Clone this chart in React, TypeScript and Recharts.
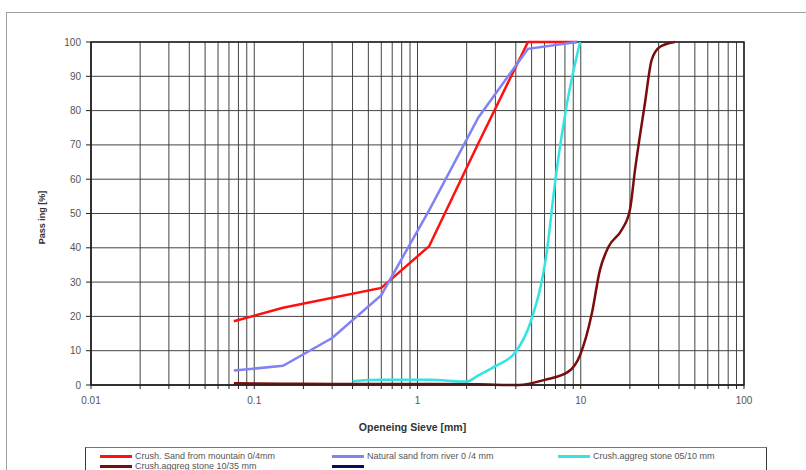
import { CartesianGrid, Label, Line, LineChart, ReferenceArea, XAxis, YAxis } from 'recharts'

// Log axis: labelled decades and the 2..9 minor lines between them.
const decades = [0.01, 0.1, 1, 10, 100]
const sieveTicks = decades
  .slice(0, -1)
  .flatMap((d) => [1, 2, 3, 4, 5, 6, 7, 8, 9].map((m) => +(d * m).toPrecision(3)))
  .concat(100)
const passingTicks = [0, 10, 20, 30, 40, 50, 60, 70, 80, 90, 100]

// Sieve opening [mm] / passing [%].
const mountainSandX = [0.075, 0.15, 0.6, 1.18, 2.36, 4.75, 9.5]
const mountainSandY = [18.6, 22.5, 28.3, 40.5, 70.5, 100, 100]

const riverSandX = [0.075, 0.15, 0.3, 0.6, 1.18, 2.36, 4.75, 9.5]
const riverSandY = [4.2, 5.6, 13.7, 26.2, 51, 78, 98, 100]

const stone0510X = [0.4, 0.6, 1.18, 2, 2.36, 3, 4, 4.9, 6.2, 7, 8.2, 9.9]
const stone0510Y = [1.1, 1.5, 1.5, 1, 2.8, 5.5, 9.7, 18, 39, 60, 81.6, 100]

const stone1035X = [0.075, 0.15, 0.3, 0.6, 1.18, 2.36, 4.2, 6, 8.4, 9.9, 11.7, 13.1, 14.8, 17.8, 20, 21.5, 24.7, 27.2, 30.6, 37.7]
const stone1035Y = [0.5, 0.4, 0.3, 0.3, 0.3, 0.2, 0, 1.5, 3.9, 8.7, 20.9, 33.5, 40.3, 45.2, 51, 62.7, 82, 94.8, 98.6, 100]

const zip = (xs: number[], ys: number[]) => xs.map((x, i) => ({ x, y: ys[i] }))

const series = [
  { name: 'Crush. Sand from mountain 0/4mm', color: '#ff1010', data: zip(mountainSandX, mountainSandY), type: 'linear' },
  { name: 'Natural sand from river 0 /4 mm', color: '#8282f5', data: zip(riverSandX, riverSandY), type: 'linear' },
  { name: 'Crush.aggreg stone 05/10 mm', color: '#33e4e4', data: zip(stone0510X, stone0510Y), type: 'monotone' },
  { name: 'Crush.aggreg stone 10/35 mm', color: '#7a0c0c', data: zip(stone1035X, stone1035Y), type: 'monotone' },
] as const

// Legend rows as in the sheet; the last entry has no series behind it.
const legendItems = [
  { name: series[0].name, color: series[0].color },
  { name: series[1].name, color: series[1].color },
  { name: series[2].name, color: series[2].color },
  { name: series[3].name, color: series[3].color },
  { name: '', color: '#0a0a5c' },
]

const tickStyle = { fontSize: 10, fill: '#555', fontFamily: '"Liberation Sans", Arial, sans-serif' }

function YTitle({ viewBox }: any) {
  const cx = viewBox.x + 42
  const cy = viewBox.y + viewBox.height / 2 + 4
  return (
    <text
      x={cx}
      y={cy}
      transform={`rotate(-90 ${cx} ${cy})`}
      textAnchor="middle"
      dominantBaseline="central"
      style={{ fontSize: 9, fontWeight: 700, fill: '#333' }}
    >
      Pass ing [%]
    </text>
  )
}

function XTitle({ viewBox }: any) {
  return (
    <text
      x={viewBox.x + viewBox.width / 2 - 5}
      y={viewBox.y + 42}
      textAnchor="middle"
      dominantBaseline="central"
      style={{ fontSize: 10.5, fontWeight: 700, fill: '#333' }}
    >
      Openeing Sieve [mm]
    </text>
  )
}

function SheetLegend() {
  const cols = [100, 332, 558]
  return (
    <div
      style={{
        position: 'absolute',
        left: 85,
        top: 447,
        width: 682,
        height: 40,
        border: '1.5px solid #3a3a3a',
        borderTopColor: '#777',
        boxSizing: 'border-box',
      }}
    >
      {legendItems.map((it, i) => (
        <div
          key={i}
          style={{
            position: 'absolute',
            left: cols[i % 3] - 86,
            top: 3 + Math.floor(i / 3) * 10,
            display: 'flex',
            alignItems: 'center',
            height: 10,
            fontSize: 9,
            color: '#555',
            whiteSpace: 'nowrap',
          }}
        >
          <span style={{ display: 'inline-block', width: 32, height: 3, background: it.color, marginRight: 3 }} />
          {it.name}
        </div>
      ))}
    </div>
  )
}

export default function App() {
  return (
    <div
      style={{
        position: 'absolute',
        left: 0,
        top: 0,
        width: 806,
        height: 470,
        overflow: 'hidden',
        background: '#fff',
        fontFamily: '"Liberation Sans", Arial, sans-serif',
      }}
    >
      <div
        style={{
          position: 'absolute',
          left: 6,
          top: 12,
          width: 900,
          height: 600,
          borderTop: '1.5px solid #a0a0a0',
          borderLeft: '1.5px solid #a0a0a0',
        }}
      />
      <div style={{ position: 'absolute', left: 0, top: 0 }}>
        <LineChart width={806} height={470} margin={{ top: 42, right: 62, bottom: 0, left: 0 }}>
          <CartesianGrid stroke="#444" strokeWidth={1} />
          <XAxis
            dataKey="x"
            type="number"
            scale="log"
            domain={[0.01, 100]}
            allowDataOverflow
            ticks={sieveTicks}
            interval={0}
            tickFormatter={(v: number) => (decades.includes(v) ? String(v) : '')}
            height={85}
            tickSize={4}
            tickMargin={8}
            tick={tickStyle}
            stroke="#222"
          >
            <Label content={XTitle} />
          </XAxis>
          <YAxis
            type="number"
            domain={[0, 100]}
            ticks={passingTicks}
            interval={0}
            width={91}
            tickSize={5}
            tickMargin={5}
            tick={tickStyle}
            stroke="#222"
          >
            <Label content={YTitle} />
          </YAxis>
          <ReferenceArea
            x1={0.01}
            x2={100}
            y1={0}
            y2={100}
            fill="none"
            stroke="#222"
            strokeWidth={1.5}
            ifOverflow="visible"
          />
          {series.map((s) => (
            <Line
              key={s.name}
              data={s.data}
              dataKey="y"
              name={s.name}
              type={s.type}
              stroke={s.color}
              strokeWidth={2.5}
              dot={false}
              activeDot={false}
              isAnimationActive={false}
            />
          ))}
        </LineChart>
      </div>
      <SheetLegend />
    </div>
  )
}
